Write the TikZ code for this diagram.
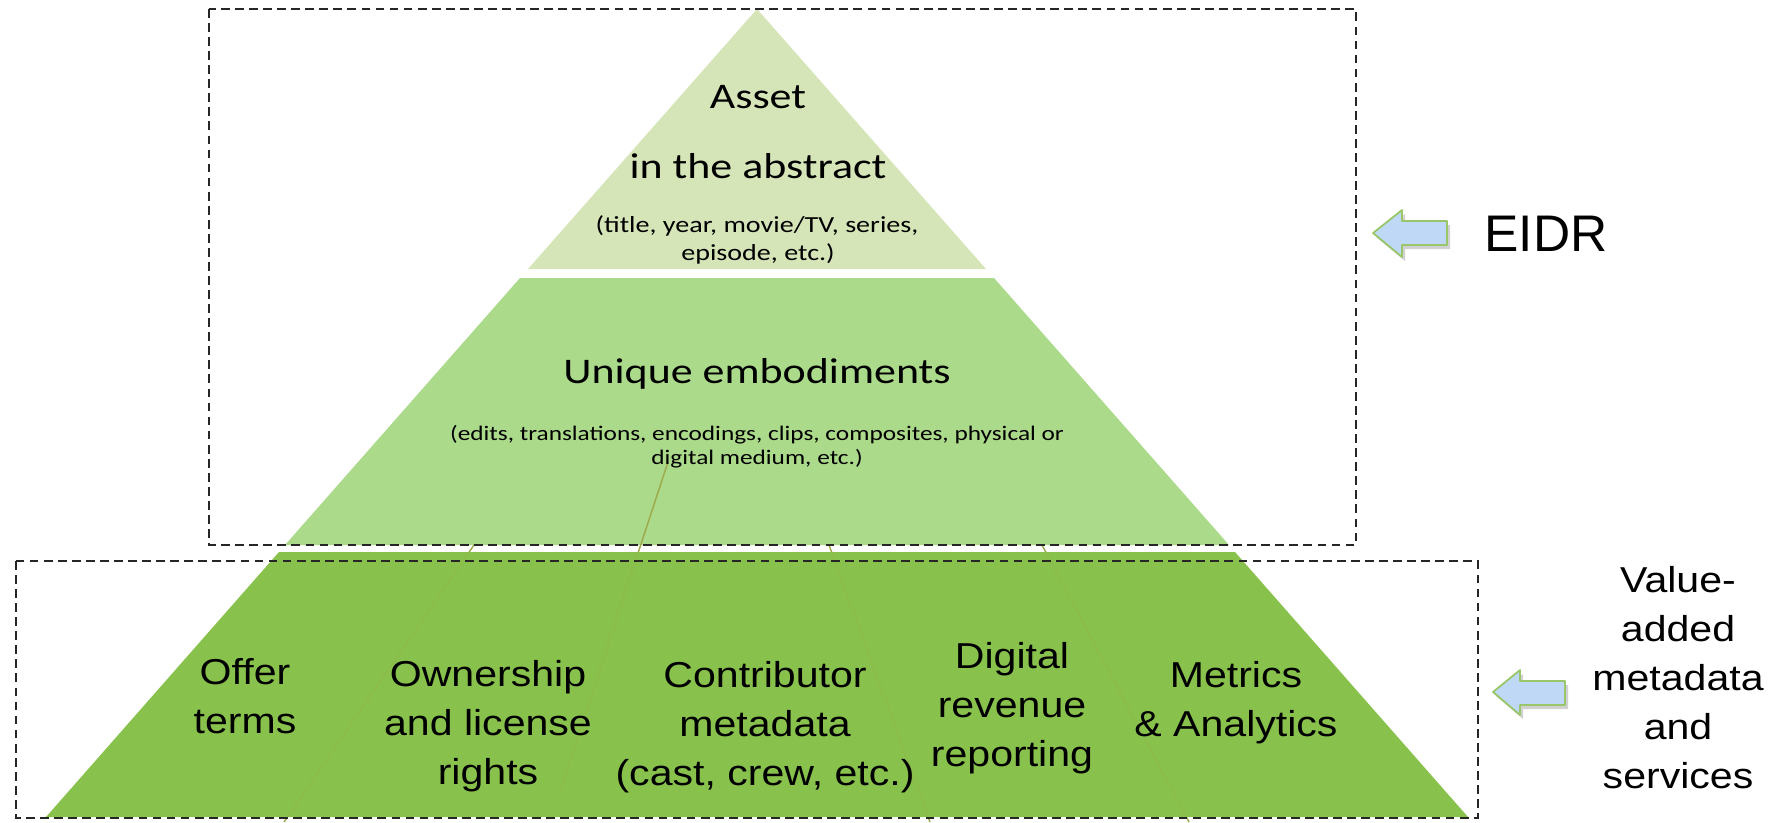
\documentclass[tikz,border=0pt]{standalone}
\usepackage{fontspec}
\setmainfont{Liberation Sans}
\newfontfamily\pyrfont[FakeStretch=1.22]{Carlito}
\newfontfamily\slicefont[FakeStretch=1.14]{Liberation Sans}
\usetikzlibrary{positioning}

\definecolor{toplayer}{RGB}{213,229,184}
\definecolor{midlayer}{RGB}{171,218,138}
\definecolor{baselayer}{RGB}{136,193,76}
\definecolor{twig}{RGB}{158,170,78}
\definecolor{arrowfill}{RGB}{190,216,246}
\definecolor{arrowrim}{RGB}{152,198,104}

\newcommand{\labelstack}[1]{\begin{tabular}[t]{@{}c@{}}#1\end{tabular}}

\begin{document}
\begin{tikzpicture}[x=0.02cm,y=-0.02cm,
		bigtext/.style={anchor=base,inner sep=0pt,font=\pyrfont\fontsize{20.5}{24.6}\selectfont},
		smalltext/.style={anchor=base,inner sep=0pt,font=\pyrfont\fontsize{13.1}{15.7}\selectfont},
		tinytext/.style={anchor=base,inner sep=0pt,font=\pyrfont\fontsize{11.8}{14.2}\selectfont},
		slicetext/.style={anchor=base,inner sep=0pt,font=\slicefont\fontsize{20.5}{27.9}\selectfont},
		groupbox/.style={draw=black!85,line width=1.3pt,dash pattern=on 5pt off 3pt},
		twigline/.style={draw=twig,line width=0.8pt},
		sidearrow/.style={fill=arrowfill,draw=arrowrim,line width=1pt,line join=round}]
	\useasboundingbox (0,0) rectangle (1787,822);

	% pyramid layers
	\fill[toplayer] (757,9) -- (986,269) -- (528,269) -- cycle;
	\fill[midlayer] (520,278) -- (994,278) -- (1229,545) -- (285,545) -- cycle;

	% connectors showing through
	\coordinate (t1a) at (474,545); \coordinate (t1b) at (284,822);
	\coordinate (t2a) at (668,462); \coordinate (t2b) at (560,790);
	\coordinate (t3a) at (829,545); \coordinate (t3b) at (930,822);
	\coordinate (t4a) at (1042,545); \coordinate (t4b) at (1189,822);
	\foreach \t in {1,2,3,4}
		\draw[twigline] (t\t a) -- (t\t b);

	\fill[baselayer] (279,552) -- (1235,552) -- (1468,817) -- (46,817) -- cycle;
	\foreach \t in {1,2,3,4}
		\draw[twigline,opacity=.25] (t\t a) -- (t\t b);

	% layer texts
	\node[bigtext] (asset) at (758,108) {Asset};
	\node[bigtext] (abstract) at (758,178) {in the abstract};
	\node[smalltext] (title) at (757,232) {(title, year, movie/TV, series,};
	\node[smalltext] (episode) at (758,260) {episode, etc.)};
	\node[bigtext] (unique) at (757,383) {Unique embodiments};
	\node[tinytext] (edits) at (757,440) {(edits, translations, encodings, clips, composites, physical or};
	\node[tinytext] (medium) at (757,464) {digital medium, etc.)};

	\node[slicetext] (offer) at (245,684) {\labelstack{Offer\\terms}};
	\node[slicetext] (owner) at (488,686) {\labelstack{Ownership\\and license\\rights}};
	\node[slicetext] (contrib) at (765,687) {\labelstack{Contributor\\metadata\\(cast, crew, etc.)}};
	\node[slicetext] (revenue) at (1012,668) {\labelstack{Digital\\revenue\\reporting}};
	\node[slicetext] (metrics) at (1236,687) {\labelstack{Metrics\\\& Analytics}};

	% groups
	\draw[groupbox] (209,9) rectangle (1356,545);
	\draw[groupbox] (16,561) rectangle (1478,818);

	% side arrows
	\fill[black,opacity=.18,shift={(3,4)}] (1373,233) -- (1402,210) -- (1402,221) -- (1447,221) -- (1447,245) -- (1402,245) -- (1402,257) -- cycle;
	\filldraw[sidearrow] (1373,233) -- (1402,210) -- (1402,221) -- (1447,221) -- (1447,245) -- (1402,245) -- (1402,257) -- cycle;
	\fill[black,opacity=.18,shift={(3,4)}] (1493,692) -- (1520,670) -- (1520,681) -- (1565,681) -- (1565,705) -- (1520,705) -- (1520,715) -- cycle;
	\filldraw[sidearrow] (1493,692) -- (1520,670) -- (1520,681) -- (1565,681) -- (1565,705) -- (1520,705) -- (1520,715) -- cycle;

	\node[anchor=base,inner sep=0pt,font=\fontsize{29.3}{35}\selectfont] (eidr) at (1546,251) {EIDR};
	\node[slicetext] (valueadd) at (1678,592) {\labelstack{Value-\\added\\metadata\\and\\services}};
\end{tikzpicture}
\end{document}
